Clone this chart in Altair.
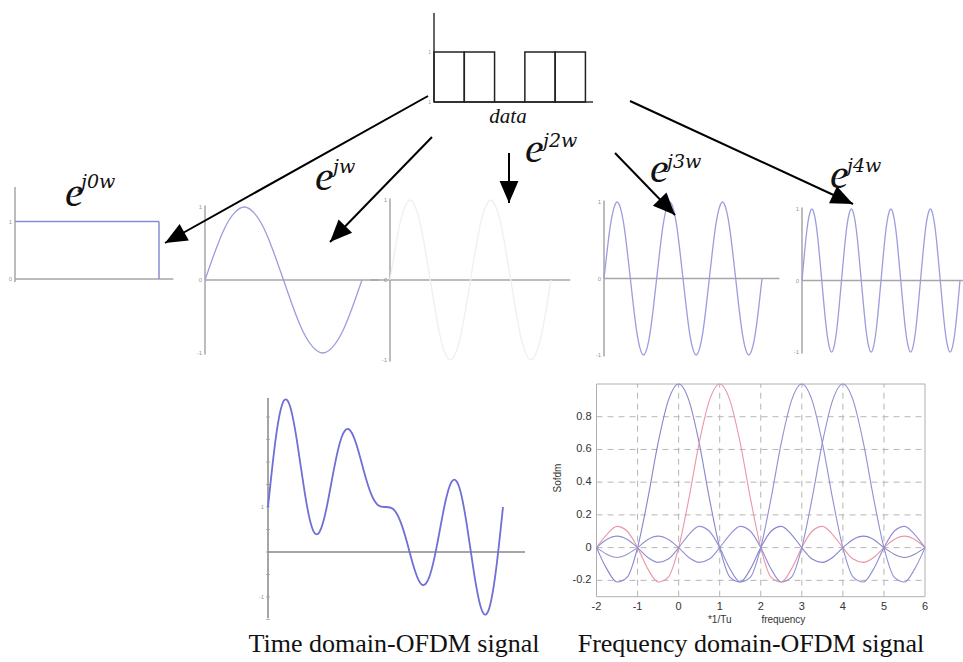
import altair as alt
import pandas as pd

W, H = 963, 662

# ---------------- values ----------------
bits = [1, 1, 0, 1, 1]
# one period of each sub-carrier, 16 samples per cycle
sine_cycle = [0, 0.38, 0.71, 0.92, 1, 0.92, 0.71, 0.38, 0,
              -0.38, -0.71, -0.92, -1, -0.92, -0.71, -0.38]
carrier_cycles = [1, 2, 3, 4]
carrier_active = [True, False, True, True]
# summed time-domain OFDM signal, 33 samples over one symbol
ofdm_time = [1.00, 2.46, 3.31, 3.24, 2.41, 1.32, 0.54, 0.44, 1.00, 1.86, 2.54,
             2.73, 2.41, 1.83, 1.31, 1.04, 1.00, 0.96, 0.69, 0.17, -0.41, -0.73,
             -0.54, 0.14, 1.00, 1.56, 1.46, 0.68, -0.41, -1.24, -1.31, -0.46, 1.00]
# spectrum lobe of one sub-carrier at offsets 0, 0.25, ... 6
lobe = [1, 0.90, 0.64, 0.30, 0, -0.18, -0.21, -0.13, 0, 0.10, 0.13, 0.08, 0,
        -0.07, -0.09, -0.06, 0, 0.05, 0.07, 0.05, 0, -0.04, -0.06, -0.04, 0]
freq_carriers = [0, 1, 3, 4]
freq_colors = ["#8585cc", "#ea97a6", "#9090d4", "#9090d4"]
freq_xticks = [-2, -1, 0, 1, 2, 3, 4, 5, 6]
freq_yticks = [-0.2, 0, 0.2, 0.4, 0.6, 0.8]
freq_ylabels = ["-0.2", "0", "0.2", "0.4", "0.6", "0.8"]
exp_sups = ["j0w", "jw", "j2w", "j3w", "j4w"]
captions = ["Time domain-OFDM signal", "Frequency domain-OFDM signal"]

# ---------------- layout (pixel boxes) ----------------
CANVAS = dict(x=[0, W], y=[0, H])
arrows = pd.DataFrame({
    "x": [428, 432, 509, 615, 630],
    "y": [96, 137, 153, 153, 101],
    "x2": [165, 330, 509, 675, 853],
    "y2": [243, 242, 203, 215, 204],
})
e_pos = pd.DataFrame({"x": [65, 315, 525, 650, 830], "y": [206, 190, 162, 182, 188], "t": ["e"] * 5})
sup_pos = pd.DataFrame({"x": [81, 333, 543, 667, 847], "y": [188, 173, 147, 168, 172], "t": exp_sups})
cap_pos = pd.DataFrame({"x": [394, 751], "y": [652, 652], "t": captions})

sine_boxes = [
    dict(xr=[205, 362], yr=[353, 207], z=[0, 1.11]),
    dict(xr=[390, 551], yr=[360, 200], z=[-0.12, 1.12]),
    dict(xr=[604, 762], yr=[355, 202], z=[0, 1.11]),
    dict(xr=[802, 960], yr=[352, 209], z=[0, 1.12]),
]

AX = "#a6a6a6"
ACTIVE = "#9c9cde"
FADED = "#efeff4"


def sc(dom, rng):
    return alt.Scale(domain=dom, range=rng, nice=False, zero=False)


def seg(df, xs, ys, color, width=1.5, dash=None):
    kw = dict(color=color, strokeWidth=width)
    if dash:
        kw["strokeDash"] = dash
    return alt.Chart(pd.DataFrame(df)).mark_rule(**kw).encode(
        x=alt.X("x:Q", scale=xs, axis=None), x2="x2:Q",
        y=alt.Y("y:Q", scale=ys, axis=None), y2="y2:Q")


def curve(df, xs, ys, color, width=1.3, interp="natural"):
    return alt.Chart(pd.DataFrame(df)).mark_line(
        color=color, strokeWidth=width, interpolate=interp).encode(
        x=alt.X("x:Q", scale=xs, axis=None),
        y=alt.Y("y:Q", scale=ys, axis=None), order="i:Q")


def labels(df, xs, ys, size=6, color="#999999", align="right", dx=-3, dy=0,
           font="Liberation Sans", style="normal", baseline="middle", angle=None):
    kw = dict(fontSize=size, color=color, align=align, dx=dx, dy=dy, font=font,
              fontStyle=style, baseline=baseline)
    if angle is not None:
        kw["angle"] = angle
    return alt.Chart(pd.DataFrame(df)).mark_text(**kw).encode(
        x=alt.X("x:Q", scale=xs, axis=None),
        y=alt.Y("y:Q", scale=ys, axis=None), text="t:N")


layers = []

# ---------- data bits panel ----------
xs = sc([0, 5.25], [434, 593])
ys = sc([0, 1], [102, 52])
bit_df = pd.DataFrame({"x": list(range(5)), "x2": [i + 1 for i in range(5)],
                       "y": [0] * 5, "y2": bits})
bars = alt.Chart(bit_df).mark_bar(fill=None, stroke="#222222", strokeWidth=1.5).encode(
    x=alt.X("x:Q", scale=xs, axis=None), x2="x2:Q",
    y=alt.Y("y:Q", scale=ys, axis=None), y2="y2:Q")
layers.append(alt.layer(
    seg({"x": [0, 0], "x2": [0, 5.25], "y": [0, 0], "y2": [1.78, 0]}, xs, ys, "#333333", 1.5),
    bars,
    labels({"x": [0, 0], "y": [1, 0], "t": ["1", "1"]}, xs, ys, size=5),
))

# ---------- e^{j0w} panel ----------
xs = sc([0, 1.1], [15, 173.4])
ys = sc([0, 1], [279, 221.5])
layers.append(alt.layer(
    seg({"x": [0, 0], "x2": [0, 1.1], "y": [-0.05, 0], "y2": [1.6, 0]}, xs, ys, AX, 1.5),
    seg({"x": [0, 1], "x2": [1, 1], "y": [1, 1], "y2": [1, 0]}, xs, ys, "#8a8ad8", 1.5),
    labels({"x": [0, 0], "y": [1, 0], "t": ["1", "0"]}, xs, ys),
))

# ---------- sine sub-carrier panels ----------
for n, active, box in zip(carrier_cycles, carrier_active, sine_boxes):
    xs = sc([0, 1], box["xr"])
    ys = sc([-1, 1], box["yr"])
    m = 16 * n
    df = {"i": list(range(m + 1)),
          "x": [i / m for i in range(m + 1)],
          "y": [sine_cycle[i % 16] for i in range(m + 1)]}
    layers.append(alt.layer(
        seg({"x": [0, box["z"][0]], "x2": [0, box["z"][1]], "y": [-1.02, 0], "y2": [1.02, 0]},
            xs, ys, AX, 1.5),
        curve(df, xs, ys, ACTIVE if active else FADED, 1.3),
        labels({"x": [0, 0, 0], "y": [1, 0, -1], "t": ["1", "0", "-1"]}, xs, ys),
    ))

# ---------- time-domain OFDM panel ----------
xs = sc([0, 32], [268, 503])
ys = sc([0, 1], [552, 507])
tdf = {"i": list(range(len(ofdm_time))), "x": list(range(len(ofdm_time))), "y": ofdm_time}
ticks = pd.DataFrame({"x": [0] * 10, "y": [-1.5 + 0.5 * k for k in range(10)]})
layers.append(alt.layer(
    seg({"x": [0, 0], "x2": [0, 35], "y": [-1.47, 0], "y2": [3.42, 0]}, xs, ys, "#888888", 1.5),
    alt.Chart(ticks).mark_tick(color="#999999", size=4, thickness=1, orient="horizontal").encode(
        x=alt.X("x:Q", scale=xs, axis=None), y=alt.Y("y:Q", scale=ys, axis=None)),
    curve(tdf, xs, ys, "#6f6fd6", 1.8),
    labels({"x": [0, 0], "y": [1, -1], "t": ["1", "-1"]}, xs, ys, dx=-4),
))

# ---------- frequency-domain OFDM panel ----------
xs = sc([-2, 6], [596.5, 925])
ys = sc([-0.3, 1], [596.7, 384])
grid_v = {"x": freq_xticks[1:-1], "x2": freq_xticks[1:-1],
          "y": [-0.3] * 7, "y2": [1] * 7}
grid_h = {"x": [-2] * 6, "x2": [6] * 6, "y": freq_yticks, "y2": freq_yticks}
frame = {"x": [-2, 6, -2, -2], "x2": [-2, 6, 6, 6], "y": [-0.3, -0.3, 1, -0.3], "y2": [1, 1, 1, -0.3]}
rows = []
for ci, c in enumerate(freq_carriers):
    for k in range(-24, 25):
        x = c + k / 4
        if -2 <= x <= 6:
            rows.append({"i": k, "x": x, "y": lobe[abs(k)], "c": ci, "col": freq_colors[ci]})
fdf = pd.DataFrame(rows)
spec_lines = alt.Chart(fdf).mark_line(strokeWidth=1.1, interpolate="monotone").encode(
    x=alt.X("x:Q", scale=xs, axis=None), y=alt.Y("y:Q", scale=ys, axis=None),
    color=alt.Color("col:N", scale=None), detail="c:N", order="i:Q")
layers.append(alt.layer(
    seg(grid_v, xs, ys, "#b5b5b5", 1, [6, 5]),
    seg(grid_h, xs, ys, "#b5b5b5", 1, [6, 5]),
    seg(frame, xs, ys, "#b0b0b0", 1),
    spec_lines,
    labels({"x": freq_xticks, "y": [-0.3] * 9, "t": [str(v) for v in freq_xticks]}, xs, ys,
           size=11, color="#333333", align="center", dx=0, dy=10),
    labels({"x": [-2] * 6, "y": freq_yticks, "t": freq_ylabels}, xs, ys,
           size=11, color="#333333", align="right", dx=-5),
    labels({"x": [1.0, 2.55], "y": [-0.3, -0.3], "t": ["*1/Tu", "frequency"]}, xs, ys,
           size=10, color="#333333", align="center", dx=0, dy=23),
))

# ---------- canvas annotations: arrows, exponent labels, captions ----------
xs = sc(CANVAS["x"], [0, W])
ys = sc(CANVAS["y"], [0, H])
shafts = alt.Chart(arrows).mark_rule(color="black", strokeWidth=2).encode(
    x=alt.X("x:Q", scale=xs, axis=None), x2="x2:Q",
    y=alt.Y("y:Q", scale=ys, axis=None), y2="y2:Q")
heads = alt.Chart(arrows).transform_calculate(
    ang="(atan2(datum.x2 - datum.x, datum.y - datum.y2) * 180 / PI + 360) % 360"
).mark_point(shape="M0,0L-0.9,2.1L0.9,2.1Z", filled=True, color="black", opacity=1,
             size=440, strokeWidth=0).encode(
    x=alt.X("x2:Q", scale=xs, axis=None), y=alt.Y("y2:Q", scale=ys, axis=None),
    angle=alt.Angle("ang:Q", scale=None))
layers.append(alt.layer(
    shafts, heads,
    labels(e_pos, xs, ys, size=42, color="#111111", align="left", dx=0,
           font="Liberation Serif", style="italic", baseline="alphabetic"),
    labels(sup_pos, xs, ys, size=19, color="#111111", align="left", dx=0,
           font="DejaVu Serif", style="italic", baseline="alphabetic"),
    labels({"x": [508], "y": [123], "t": ["data"]}, xs, ys, size=21, color="#111111",
           align="center", dx=0, font="Liberation Serif", style="italic", baseline="alphabetic"),
    labels(cap_pos, xs, ys, size=26, color="#111111", align="center", dx=0,
           font="Liberation Serif", baseline="alphabetic"),
    labels({"x": [558], "y": [478], "t": ["Sofdm"]}, xs, ys, size=10, color="#333333",
           align="center", dx=0, angle=270),
))

chart = alt.layer(*layers).resolve_scale(x="independent", y="independent").properties(
    width=W, height=H, padding=0, background="white",
    autosize=alt.AutoSizeParams(type="none"),
).configure_view(stroke=None)

chart.save("out.html", embed_options={"renderer": "svg", "actions": False})
